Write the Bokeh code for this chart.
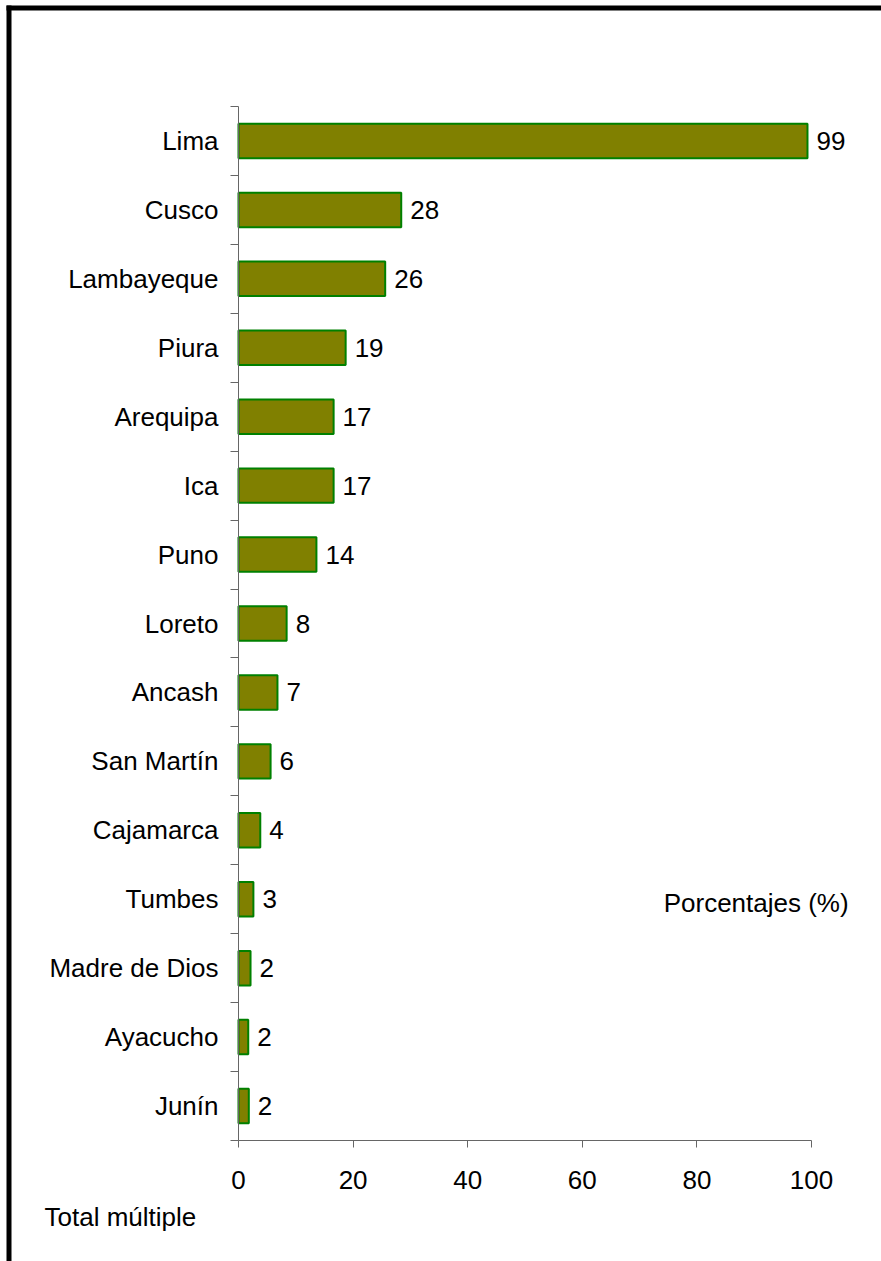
from bokeh.plotting import figure
from bokeh.models import (Range1d, FixedTicker, Label, LabelSet, ColumnDataSource,
                          BoxAnnotation, LinearAxis)
from bokeh.core.properties import value
from bokeh.embed import file_html
from bokeh.resources import INLINE

categories = ["Lima", "Cusco", "Lambayeque", "Piura", "Arequipa", "Ica", "Puno",
              "Loreto", "Ancash", "San Martín", "Cajamarca", "Tumbes",
              "Madre de Dios", "Ayacucho", "Junín"]
values = [99.3, 28.4, 25.6, 18.7, 16.6, 16.6, 13.6, 8.4, 6.8, 5.6, 3.8, 2.6, 2.1, 1.7, 1.8]
value_labels = ["99", "28", "26", "19", "17", "17", "14", "8", "7", "6", "4", "3", "2", "2", "2"]
x_ticks = [0, 20, 40, 60, 80, 100]
unit_note = "Porcentajes (%)"
footer_note = "Total múltiple"

FONT = "Liberation Sans"
FS = "26px"
AXIS_COLOR = "#666666"

n = len(categories)
ypos = [n - 1 - i for i in range(n)]

W, H = 881, 1261
# plot area: x 0..100 -> px 238..811 ; y boundaries 14.5..-0.5 -> px 106..1140
PX_X = 573.0 / 100.0
PX_Y = 1034.0 / n
x_start = 0 - 238 / PX_X
x_end = 100 + (W - 811) / PX_X
y_end = (n - 0.5) + 106 / PX_Y
y_start = -0.5 - (H - 1140) / PX_Y

p = figure(width=W, height=H, output_backend="svg", toolbar_location=None,
           x_range=Range1d(x_start, x_end), y_range=Range1d(y_start, y_end),
           x_axis_location=None, y_axis_location=None,
           min_border=0, min_border_left=0, min_border_right=0,
           min_border_top=0, min_border_bottom=0)
p.grid.visible = False
p.outline_line_color = None
p.background_fill_color = "white"
p.border_fill_color = "white"

src = ColumnDataSource(dict(y=ypos, v=values, lab=value_labels, cat=categories))
p.hbar(y="y", right="v", left=0, height=0.5, source=src,
       fill_color="#808000", line_color="#008000", line_width=2)

p.add_layout(LabelSet(x="v", y="y", text="lab", source=src, x_offset=9,
                      text_baseline="middle", text_align="left",
                      text_font=value(FONT), text_font_size=value(FS),
                      text_color="black"))

# x axis
xa = LinearAxis(fixed_location=-0.5, bounds=(0, 100))
xa.ticker = FixedTicker(ticks=x_ticks)
xa.major_tick_out = 7
xa.major_tick_in = 0
xa.minor_tick_line_color = None
xa.axis_line_color = AXIS_COLOR
xa.major_tick_line_color = AXIS_COLOR
xa.major_label_text_font = FONT
xa.major_label_text_font_size = FS
xa.major_label_text_color = "black"
xa.major_label_standoff = 23
p.add_layout(xa, "below")

# y axis: labels at category centres, ticks at category boundaries (minor ticks)
ya = LinearAxis(fixed_location=0, bounds=(-0.5, n - 0.5))
ya.ticker = FixedTicker(ticks=ypos, minor_ticks=[k - 0.5 for k in range(n + 1)])
ya.major_label_overrides = {y: c for y, c in zip(ypos, categories)}
ya.major_tick_line_color = None
ya.major_tick_out = 0
ya.major_tick_in = 0
ya.minor_tick_out = 8
ya.minor_tick_in = 0
ya.minor_tick_line_color = AXIS_COLOR
ya.axis_line_color = AXIS_COLOR
ya.major_label_text_font = FONT
ya.major_label_text_font_size = FS
ya.major_label_text_color = "black"
ya.major_label_standoff = 12
p.add_layout(ya, "left")

p.add_layout(Label(x=74.2, y=2.95, text=unit_note, text_font=FONT, text_font_size=FS,
                   text_baseline="middle", text_align="left", text_color="black"))
p.add_layout(Label(x=(44 - 238) / PX_X, y=-0.5 - (1216 - 1140) / PX_Y, text=footer_note,
                   text_font=FONT, text_font_size=FS,
                   text_baseline="middle", text_align="left", text_color="black"))

# outer frame border (top and left edges, black)
def xd(px):
    return x_start + px / PX_X

def yd(py):
    return y_end - py / PX_Y

p.add_layout(BoxAnnotation(left=xd(6), right=xd(11), top=yd(5), bottom=yd(H + 5),
                           fill_color="black", fill_alpha=1, line_color=None))
p.add_layout(BoxAnnotation(left=xd(6), right=xd(W + 5), top=yd(5), bottom=yd(10),
                           fill_color="black", fill_alpha=1, line_color=None))

open("out.html", "w").write(file_html(p, INLINE))
